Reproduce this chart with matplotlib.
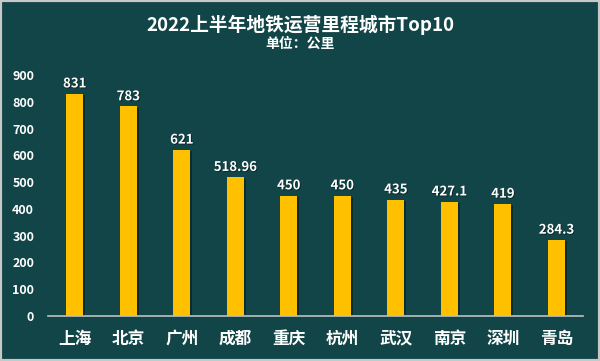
import matplotlib
matplotlib.use("Agg")
import matplotlib.pyplot as plt
import matplotlib.patheffects as pe
from matplotlib.patches import Rectangle

plt.rcParams['font.family'] = ['Noto Sans CJK SC', 'DejaVu Sans']

cities = ["上海", "北京", "广州", "成都", "重庆", "杭州", "武汉", "南京", "深圳", "青岛"]
mileage = [831, 783, 621, 518.96, 450, 450, 435, 427.1, 419, 284.3]
labels = ["831", "783", "621", "518.96", "450", "450", "435", "427.1", "419", "284.3"]
yticks = [0, 100, 200, 300, 400, 500, 600, 700, 800, 900]

bg = "#124547"
fig = plt.figure(figsize=(6, 3.61), dpi=100, facecolor=bg)
ax = fig.add_axes([0.08, 0.1247, 0.892, 0.667], facecolor=bg)

x = range(len(cities))
bars = ax.bar(x, mileage, width=0.32, color="#FFC000", zorder=3)
for b in bars:
    b.set_path_effects([pe.SimplePatchShadow(offset=(1.2, -1), shadow_rgbFace="#06201f", alpha=0.6), pe.Normal()])

txt_fx = [pe.withSimplePatchShadow(offset=(0.6, -0.6), shadow_rgbFace="#000000", alpha=0.5)]
for i, (v, t) in enumerate(zip(mileage, labels)):
    ax.text(i, v + 12, t, ha="center", va="bottom", color="white", fontsize=9.5,
            fontweight="bold", path_effects=txt_fx)

ax.set_xlim(-0.5, 9.5)
ax.set_ylim(0, 900)
ax.set_yticks(yticks)
ax.set_yticklabels([str(t) for t in yticks], color="white", fontsize=9, fontweight="bold")
ax.set_xticks(list(x))
ax.set_xticklabels(cities, color="white", fontsize=12, fontweight="bold")
ax.tick_params(axis="both", length=0)
ax.tick_params(axis="x", pad=10)
ax.tick_params(axis="y", pad=10)

for s in ["top", "right", "left"]:
    ax.spines[s].set_visible(False)
ax.spines["bottom"].set_color("#c0c0c0")
ax.spines["bottom"].set_linewidth(1.2)
ax.spines["bottom"].set_zorder(4)

fig.text(0.5, 0.932, "2022上半年地铁运营里程城市Top10", ha="center", va="center",
         color="white", fontsize=13.5, fontweight="bold")
fig.text(0.5, 0.879, "单位：公里", ha="center", va="center",
         color="white", fontsize=10, fontweight="bold")

fig.patches.append(Rectangle((0, 0), 1, 1, transform=fig.transFigure, fill=False,
                             edgecolor="#c8c8c8", linewidth=3, zorder=10))

fig.savefig("out.png", dpi=100, facecolor=bg)
